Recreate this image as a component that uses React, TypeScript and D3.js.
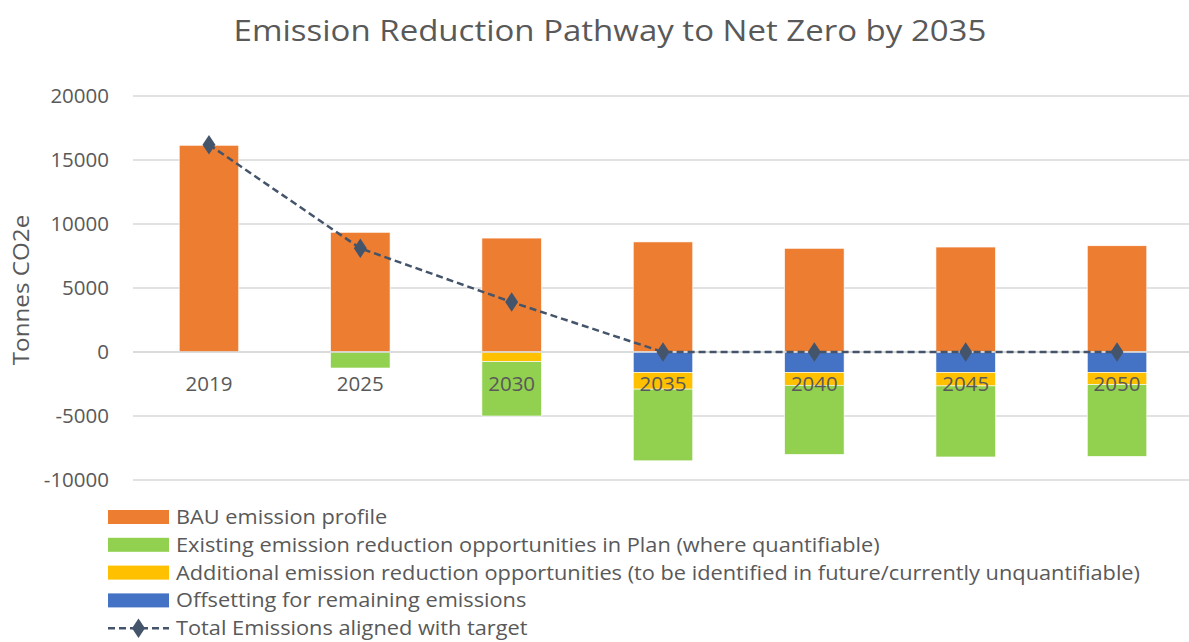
import React, { useRef, useEffect } from "react";
import * as d3 from "d3";

/* ---- data ---- */
const YEARS = ["2019", "2025", "2030", "2035", "2040", "2045", "2050"];
const BAU = [16150, 9350, 8900, 8600, 8100, 8200, 8300];
const EXISTING = [0, -1250, -4250, -5600, -5400, -5550, -5600];
const ADDITIONAL = [0, 0, -750, -1300, -1000, -1050, -950];
const OFFSETTING = [0, 0, 0, -1600, -1600, -1600, -1600];
const TOTAL = [16200, 8100, 3900, 0, 0, 0, 0];
const Y_TICKS = [-10000, -5000, 0, 5000, 10000, 15000, 20000];

const SERIES = [
  { key: "bau", label: "BAU emission profile", color: "#ED7D31", values: BAU },
  {
    key: "existing",
    label: "Existing emission reduction opportunities in Plan (where quantifiable)",
    color: "#92D050",
    values: EXISTING,
  },
  {
    key: "additional",
    label:
      "Additional emission reduction opportunities (to be identified in future/currently unquantifiable)",
    color: "#FFC000",
    values: ADDITIONAL,
  },
  { key: "offset", label: "Offsetting for remaining emissions", color: "#4472C4", values: OFFSETTING },
];
const LINE_LABEL = "Total Emissions aligned with target";

const FONT = "'Open Sans', sans-serif";
const TEXT = "#595959";
const GRID = "#D9D9D9";
const LINE = "#44546A";

/* widen a text element a bit (source font is wider than Open Sans at same height) */
function stretch(sel: d3.Selection<SVGTextElement, any, any, any>, k: number) {
  const n = sel.node();
  if (!n) return;
  const w = n.getComputedTextLength();
  sel.attr("textLength", w * k).attr("lengthAdjust", "spacingAndGlyphs");
}

export default function App() {
  const svgRef = useRef<SVGSVGElement>(null);

  useEffect(() => {
    const W = 1189;
    const H = 642;

    const svg = d3.select(svgRef.current).attr("width", W).attr("height", H);
    svg.selectAll("*").remove();
    svg.style("font-family", FONT).style("background", "#fff");

    /* ---- scales ---- */
    const x = d3
      .scaleBand<string>()
      .domain(YEARS)
      .range([133.3, 1192.7])
      .paddingInner(0.607)
      .paddingOuter(0.3035);
    const y = d3.scaleLinear().domain([-10000, 20000]).range([480, 96]);

    /* ---- title ---- */
    const title = svg
      .append("text")
      .attr("x", 610)
      .attr("y", 41)
      .attr("text-anchor", "middle")
      .attr("fill", TEXT)
      .style("font-size", "30px")
      .text("Emission Reduction Pathway to Net Zero by 2035");
    stretch(title, 1.1);

    /* ---- gridlines + y ticks ---- */
    const grid = svg.append("g");
    grid
      .selectAll("line")
      .data(Y_TICKS)
      .enter()
      .append("line")
      .attr("x1", 133)
      .attr("x2", W)
      .attr("y1", (d) => y(d))
      .attr("y2", (d) => y(d))
      .attr("stroke", GRID)
      .attr("stroke-width", 1.5);
    grid
      .selectAll("text")
      .data(Y_TICKS)
      .enter()
      .append("text")
      .attr("x", 109)
      .attr("y", (d) => y(d))
      .attr("dy", "0.35em")
      .attr("text-anchor", "end")
      .attr("fill", TEXT)
      .style("font-size", "20.5px")
      .text((d) => String(d));

    /* ---- y-axis title ---- */
    const yt = svg
      .append("text")
      .attr("transform", `translate(29,${y(5000) + 2}) rotate(-90)`)
      .attr("text-anchor", "middle")
      .attr("fill", TEXT)
      .style("font-size", "22px")
      .text("Tonnes CO2e");
    stretch(yt, 1.1);

    /* ---- stacked bars (negatives stack outward: offset, additional, existing) ---- */
    const rows = YEARS.map((yr, i) => ({
      year: yr,
      bau: BAU[i],
      offset: OFFSETTING[i],
      additional: ADDITIONAL[i],
      existing: EXISTING[i],
    }));
    const stack = d3
      .stack<any>()
      .keys(["bau", "offset", "additional", "existing"])
      .offset(d3.stackOffsetDiverging);
    const layers = stack(rows);
    const colorOf = (k: string) => SERIES.find((s) => s.key === k)!.color;

    svg
      .append("g")
      .selectAll("g")
      .data(layers)
      .enter()
      .append("g")
      .attr("fill", (l) => colorOf(l.key))
      .selectAll("rect")
      .data((l) => l)
      .enter()
      .append("rect")
      .attr("x", (d: any) => x(d.data.year)!)
      .attr("width", x.bandwidth())
      .attr("y", (d) => y(Math.max(d[0], d[1])))
      .attr("height", (d) => Math.abs(y(d[0]) - y(d[1])))
      .attr("stroke", "#fff")
      .attr("stroke-width", 0.6);

    /* ---- zero axis line ---- */
    svg
      .append("line")
      .attr("x1", 133)
      .attr("x2", W)
      .attr("y1", y(0))
      .attr("y2", y(0))
      .attr("stroke", GRID)
      .attr("stroke-width", 1.5);

    /* ---- category labels ---- */
    svg
      .append("g")
      .selectAll("text")
      .data(YEARS)
      .enter()
      .append("text")
      .attr("x", (d) => x(d)! + x.bandwidth() / 2)
      .attr("y", 391)
      .attr("text-anchor", "middle")
      .attr("fill", TEXT)
      .style("font-size", "20.5px")
      .text((d) => d);

    /* ---- target line ---- */
    const pts = YEARS.map((yr, i) => ({ year: yr, v: TOTAL[i] }));
    const line = d3
      .line<{ year: string; v: number }>()
      .x((d) => x(d.year)! + x.bandwidth() / 2)
      .y((d) => y(d.v));
    svg
      .append("path")
      .datum(pts)
      .attr("d", line)
      .attr("fill", "none")
      .attr("stroke", LINE)
      .attr("stroke-width", 2.5)
      .attr("stroke-dasharray", "7,4");
    const diamond = d3.symbol().type(d3.symbolDiamond).size(110);
    svg
      .append("g")
      .selectAll("path")
      .data(pts)
      .enter()
      .append("path")
      .attr("d", diamond)
      .attr(
        "transform",
        (d) => `translate(${x(d.year)! + x.bandwidth() / 2},${y(d.v)}) scale(1.15,1)`
      )
      .attr("fill", LINE);

    /* ---- legend ---- */
    const lg = svg.append("g").attr("transform", "translate(108,0)");
    const rowY = (i: number) => 517 + i * 27.8;
    const legendText = (label: string, yy: number) => {
      const t = lg
        .append("text")
        .attr("x", 68)
        .attr("y", yy)
        .attr("dy", "0.35em")
        .attr("fill", TEXT)
        .style("font-size", "20px")
        .text(label);
      stretch(t, 1.088);
    };
    SERIES.forEach((s, i) => {
      lg.append("rect")
        .attr("x", 0)
        .attr("y", rowY(i) - 7)
        .attr("width", 61)
        .attr("height", 14)
        .attr("fill", s.color);
      legendText(s.label, rowY(i));
    });
    const ly = rowY(4);
    lg.append("line")
      .attr("x1", 0)
      .attr("x2", 61)
      .attr("y1", ly)
      .attr("y2", ly)
      .attr("stroke", LINE)
      .attr("stroke-width", 2.5)
      .attr("stroke-dasharray", "7,4");
    lg.append("path")
      .attr("d", diamond)
      .attr("transform", `translate(30.5,${ly}) scale(1.15,1)`)
      .attr("fill", LINE);
    legendText(LINE_LABEL, ly);
  }, []);

  return (
    <div style={{ position: "fixed", left: 0, top: 0 }}>
      <svg ref={svgRef} style={{ display: "block" }} />
    </div>
  );
}
